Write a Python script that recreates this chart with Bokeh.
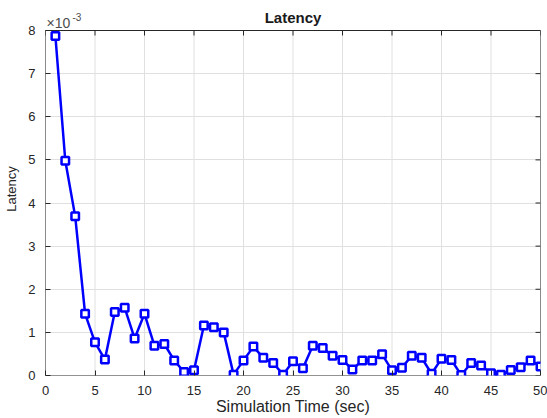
from bokeh.plotting import figure
from bokeh.models import Range1d, FixedTicker
from bokeh.core.properties import value
from bokeh.embed import file_html
from bokeh.resources import INLINE

# Data
time_sec = list(range(1, 51))
latency_e3 = [7.87, 4.98, 3.69, 1.43, 0.77, 0.37, 1.47, 1.57, 0.86, 1.43,
              0.69, 0.73, 0.35, 0.08, 0.12, 1.16, 1.12, 1.00, 0.02, 0.35,
              0.67, 0.41, 0.29, 0.02, 0.33, 0.17, 0.69, 0.64, 0.46, 0.36,
              0.14, 0.35, 0.35, 0.49, 0.12, 0.18, 0.46, 0.41, 0.04, 0.39,
              0.36, 0.01, 0.29, 0.23, 0.05, 0.02, 0.13, 0.19, 0.35, 0.21]
x_ticks = [0, 5, 10, 15, 20, 25, 30, 35, 40, 45, 50]
y_ticks = [0, 1, 2, 3, 4, 5, 6, 7, 8]
title_text = "Latency"
exp_base, exp_power = "\u00d710", "-3"

FONT = "Liberation Sans"
AX = "#262626"
GRID = "#e0e0e0"
W, H = 547, 418
BL, BR, BB = 45, 7, 43
FRAME_TOP = 2          # page px where the drawing frame starts
BOX_TOP = 30           # page px of the axes box top (y = 8)
BOX_BOTTOM = H - BB    # page px of the axes box bottom (y = 0)
X0, X1, Y0, Y1 = 0, 50, 0, 8

ppu = (BOX_BOTTOM - BOX_TOP) / (Y1 - Y0)      # px per y unit
Y_TOP = Y1 + (BOX_TOP - FRAME_TOP) / ppu      # frame extends above the box for the title


def page_y(py):
    """data y for a page pixel row above the box"""
    return Y1 + (BOX_TOP - py) / ppu


p = figure(width=W, height=H, output_backend="svg", toolbar_location=None, title=None,
           x_range=Range1d(X0, X1), y_range=Range1d(Y0, Y_TOP),
           min_border_left=BL, min_border_right=BR, min_border_top=FRAME_TOP,
           min_border_bottom=BB,
           x_axis_label="Simulation Time (sec)", y_axis_label="Latency")
p.background_fill_color = "white"
p.border_fill_color = "white"
p.outline_line_color = None

for ax, ticks in ((p.xaxis[0], x_ticks), (p.yaxis[0], y_ticks)):
    ax.ticker = FixedTicker(ticks=ticks)
    ax.axis_line_color = None
    ax.major_tick_line_color = AX
    ax.major_tick_in = 5
    ax.major_tick_out = 0
    ax.minor_tick_line_color = None
    ax.major_label_text_font = FONT
    ax.major_label_text_font_size = "13px"
    ax.major_label_text_color = AX
    ax.axis_label_text_font = FONT
    ax.axis_label_text_font_style = "normal"
    ax.axis_label_text_color = AX

xa = p.xaxis[0]
xa.major_label_standoff = 10
xa.axis_label_text_font_size = "16px"
xa.axis_label_standoff = 0

ya = p.yaxis[0]
ya.major_label_standoff = 10
ya.axis_label_text_font_size = "13px"
ya.axis_label_standoff = 6

# grid limited to the axes box
p.xgrid.visible = False
p.ygrid.ticker = FixedTicker(ticks=y_ticks)
p.ygrid.grid_line_color = GRID
p.segment(x0=x_ticks, y0=[Y0] * len(x_ticks), x1=x_ticks, y1=[Y1] * len(x_ticks),
          line_color=GRID, line_width=1)

# axes box
p.quad(left=[X0], right=[X1], bottom=[Y0], top=[Y1], fill_color=None,
       line_color=AX, line_width=1)

# inward ticks on the top and right edges of the box (5 px long)
fw = W - BL - BR
tx = 5 * (X1 - X0) / fw
ty = 5 / ppu
p.segment(x0=x_ticks, y0=[Y1] * len(x_ticks), x1=x_ticks, y1=[Y1 - ty] * len(x_ticks),
          line_color=AX, line_width=1)
p.segment(x0=[X1] * len(y_ticks), y0=y_ticks, x1=[X1 - tx] * len(y_ticks), y1=y_ticks,
          line_color=AX, line_width=1)

# series
p.line(time_sec, latency_e3, line_color="#0000ff", line_width=2.5)
p.scatter(time_sec, latency_e3, marker="square", size=7.5, line_color="#0000ff",
          line_width=2.5, fill_color="white")

# title and exponent note above the box
p.text(x=[(X0 + X1) / 2], y=[page_y(17)], text=[title_text], text_align="center",
       text_baseline="middle", text_font=value(FONT), text_font_size="15px",
       text_font_style="bold", text_color="#1a1a1a")
p.text(x=[X0], y=[page_y(22.5)], x_offset=1, text=[exp_base], text_align="left",
       text_baseline="middle", text_font=value(FONT), text_font_size="14px",
       text_color="#4d4d4d")
p.text(x=[X0], y=[page_y(16)], x_offset=27, text=[exp_power], text_align="left",
       text_baseline="middle", text_font=value(FONT), text_font_size="10px",
       text_color="#4d4d4d")

open("out.html", "w").write(file_html(p, INLINE))
